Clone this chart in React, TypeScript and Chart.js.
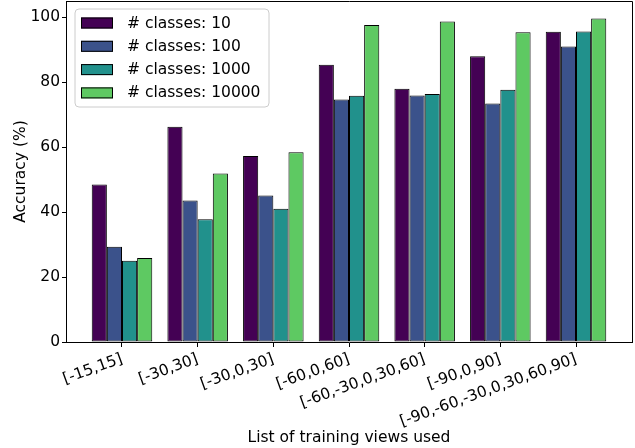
import React, { useEffect, useRef } from "react";
import { Chart, registerables } from "chart.js";

Chart.register(...registerables);

const categories = [
  "[-15,15]",
  "[-30,30]",
  "[-30,0,30]",
  "[-60,0,60]",
  "[-60,-30,0,30,60]",
  "[-90,0,90]",
  "[-90,-60,-30,0,30,60,90]",
];

const seriesNames = ["# classes: 10", "# classes: 100", "# classes: 1000", "# classes: 10000"];
const seriesColors = ["#440154", "#3b528b", "#21918c", "#5ec962"];

const classes10 = [48.5, 66.3, 57.3, 85.4, 78.0, 88.0, 95.5];
const classes100 = [29.3, 43.6, 45.1, 74.7, 75.9, 73.4, 91.0];
const classes1000 = [25.0, 37.8, 41.0, 75.8, 76.4, 77.7, 95.6];
const classes10000 = [25.9, 51.9, 58.4, 97.6, 98.7, 95.4, 99.6];

const yTicks = [0, 20, 40, 60, 80, 100];

const FONT = "DejaVu Sans";
const FS = 15.5;

const framePlugin = {
  id: "frameAndLegend",
  afterDraw(chart: any) {
    const { ctx, chartArea } = chart;
    const { left, right, top, bottom } = chartArea;
    ctx.save();
    ctx.strokeStyle = "#000";
    ctx.lineWidth = 1;
    ctx.beginPath();
    ctx.moveTo(Math.round(left), Math.round(top) + 0.5);
    ctx.lineTo(Math.round(right) + 0.5, Math.round(top) + 0.5);
    ctx.lineTo(Math.round(right) + 0.5, Math.round(bottom));
    ctx.stroke();

    const fx = left + 9;
    const fy = top + 8;
    const fw = 194;
    const fh = 98;
    const r = 4;
    ctx.beginPath();
    ctx.moveTo(fx + r, fy);
    ctx.lineTo(fx + fw - r, fy);
    ctx.arcTo(fx + fw, fy, fx + fw, fy + r, r);
    ctx.lineTo(fx + fw, fy + fh - r);
    ctx.arcTo(fx + fw, fy + fh, fx + fw - r, fy + fh, r);
    ctx.lineTo(fx + r, fy + fh);
    ctx.arcTo(fx, fy + fh, fx, fy + fh - r, r);
    ctx.lineTo(fx, fy + r);
    ctx.arcTo(fx, fy, fx + r, fy, r);
    ctx.closePath();
    ctx.fillStyle = "rgba(255,255,255,0.8)";
    ctx.fill();
    ctx.strokeStyle = "#cccccc";
    ctx.lineWidth = 1;
    ctx.stroke();

    ctx.font = `${FS}px "${FONT}"`;
    ctx.textBaseline = "middle";
    ctx.textAlign = "left";
    chart.data.datasets.forEach((ds: any, i: number) => {
      const cy = fy + 14 + i * 23.3;
      ctx.fillStyle = ds.backgroundColor;
      ctx.fillRect(fx + 6, cy - 5.5, 32, 11);
      ctx.strokeStyle = "#000";
      ctx.strokeRect(fx + 6.5, cy - 5, 31, 10);
      ctx.fillStyle = "#000";
      ctx.fillText(ds.label, fx + 52, cy + 0.5);
    });
    ctx.restore();
  },
};

export default function App() {
  const ref = useRef<HTMLCanvasElement | null>(null);

  useEffect(() => {
    document.body.style.margin = "0";
    const canvas = ref.current;
    if (!canvas) return;
    const series = [classes10, classes100, classes1000, classes10000];
    const chart = new Chart(canvas, {
      type: "bar",
      data: {
        datasets: series.map((vals, si) => ({
          label: seriesNames[si],
          data: vals.map((v, i) => ({ x: i, y: v })),
          backgroundColor: seriesColors[si],
          borderColor: "#000",
          borderWidth: 1,
          borderSkipped: false,
          categoryPercentage: 0.8,
          barPercentage: 1.0,
        })),
      },
      options: {
        responsive: false,
        animation: false,
        devicePixelRatio: 1,
        layout: { padding: { top: 1, right: 3, left: 0, bottom: 0 } },
        plugins: {
          legend: { display: false },
          tooltip: { enabled: false },
        },
        scales: {
          x: {
            type: "linear",
            min: -0.74,
            max: categories.length - 1 + 0.74,
            offset: false,
            afterBuildTicks: (s: any) => {
              s.ticks = categories.map((_, i) => ({ value: i }));
            },
            afterFit: (s: any) => {
              s.height = 106;
              s.paddingLeft = 0;
              s.paddingRight = 0;
            },
            ticks: {
              autoSkip: false,
              minRotation: 20,
              maxRotation: 20,
              padding: 3,
              color: "#000",
              font: { family: FONT, size: FS },
              callback: (v: any) => (Number.isInteger(v) ? categories[v] : ""),
            },
            grid: {
              display: true,
              offset: false,
              drawOnChartArea: false,
              drawTicks: true,
              tickLength: 5,
              tickColor: "#000",
              tickWidth: 1,
            },
            border: { display: true, color: "#000", width: 1 },
            title: {
              display: true,
              text: "List of training views used",
              color: "#000",
              font: { family: FONT, size: FS },
              padding: { top: 0, bottom: 1 },
            },
          },
          y: {
            min: 0,
            max: 105,
            afterBuildTicks: (s: any) => {
              s.ticks = yTicks.map((v) => ({ value: v }));
            },
            afterFit: (s: any) => {
              s.width = 66;
              s.paddingTop = 0;
              s.paddingBottom = 0;
            },
            ticks: {
              color: "#000",
              padding: 2,
              font: { family: FONT, size: FS },
            },
            grid: {
              display: true,
              drawOnChartArea: false,
              drawTicks: true,
              tickLength: 4,
              tickColor: "#000",
              tickWidth: 1,
            },
            border: { display: true, color: "#000", width: 1 },
            title: {
              display: true,
              text: "Accuracy (%)",
              color: "#000",
              font: { family: FONT, size: FS },
              padding: { top: 12, bottom: 0 },
            },
          },
        },
      },
      plugins: [framePlugin],
    });
    return () => chart.destroy();
  }, []);

  return (
    <div style={{ position: "absolute", left: 0, top: 0, width: 635, height: 448 }}>
      <canvas ref={ref} width={635} height={448} style={{ display: "block" }} />
    </div>
  );
}
